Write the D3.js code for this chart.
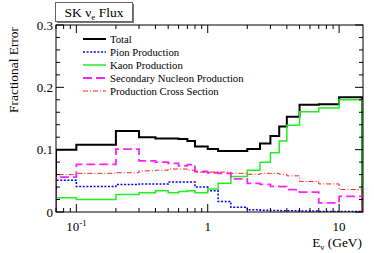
<!DOCTYPE html>
<html>
<head>
<meta charset="utf-8">
<script src="https://cdn.jsdelivr.net/npm/d3@7"></script>
<style>
  body { margin: 0; background: #fff; }
</style>
</head>
<body>
<svg width="374" height="253" font-family="Liberation Serif, DejaVu Serif, serif"></svg>
<script>
// bin edges in GeV
var edges = [0.07, 0.1, 0.2, 0.3, 0.4, 0.5, 0.6, 0.7, 0.8, 0.9, 1.0, 1.2, 1.5, 2.0, 2.5, 3.0, 3.5, 4.0, 5.0, 7.0, 10.0, 15.0];

var total     = [0.100, 0.108, 0.130, 0.120, 0.118, 0.118, 0.117, 0.114, 0.105, 0.105, 0.101, 0.098, 0.098, 0.101, 0.110, 0.122, 0.137, 0.153, 0.172, 0.173, 0.184];
var pion      = [0.051, 0.041, 0.044, 0.045, 0.045, 0.048, 0.048, 0.048, 0.040, 0.040, 0.034, 0.017, 0.0075, 0.0035, 0.003, 0.0025, 0.002, 0.002, 0.0015, 0.001, 0.001];
var kaon      = [0.023, 0.020, 0.028, 0.031, 0.034, 0.031, 0.033, 0.034, 0.031, 0.031, 0.037, 0.046, 0.057, 0.067, 0.080, 0.095, 0.114, 0.139, 0.161, 0.167, 0.180];
var secondary = [0.056, 0.0765, 0.101, 0.082, 0.080, 0.078, 0.074, 0.076, 0.065, 0.065, 0.063, 0.062, 0.053, 0.046, 0.0444, 0.041, 0.0406, 0.036, 0.032, 0.0145, 0.025];
var xsec      = [0.060, 0.062, 0.063, 0.066, 0.067, 0.069, 0.069, 0.067, 0.064, 0.064, 0.064, 0.064, 0.062, 0.0605, 0.062, 0.062, 0.0605, 0.058, 0.049, 0.045, 0.036];

var yTicks = [0, 0.1, 0.2, 0.3];

var series = [
  {name: "Total", values: total, color: "#000000", width: 2, dash: null},
  {name: "Pion Production", values: pion, color: "#0000ff", width: 1.5, dash: "2,1.6"},
  {name: "Kaon Production", values: kaon, color: "#22ee22", width: 1.5, dash: null},
  {name: "Secondary Nucleon Production", values: secondary, color: "#ff22ff", width: 1.8, dash: "9,4"},
  {name: "Production Cross Section", values: xsec, color: "#ff2222", width: 1, dash: "5,2,1,2"}
];

var svg = d3.select("svg");
var frame = {left: 56, right: 363, top: 25, bottom: 212};

var xScale = d3.scaleLog().domain([0.07, 15.2]).range([frame.left, frame.right]);
var yScale = d3.scaleLinear().domain([0, 0.3]).range([frame.bottom, frame.top]);

svg.append("clipPath").attr("id", "clip")
  .append("rect").attr("x", frame.left).attr("y", frame.top)
  .attr("width", frame.right - frame.left).attr("height", frame.bottom - frame.top);

var stepLine = d3.line()
  .x(function(d) { return xScale(d[0]); })
  .y(function(d) { return yScale(d[1]); })
  .curve(d3.curveStepAfter);

var plot = svg.append("g").attr("clip-path", "url(#clip)");

series.forEach(function(s) {
  var pts = [[edges[0], 0]];
  s.values.forEach(function(v, i) { pts.push([edges[i], v]); });
  pts.push([edges[edges.length - 1], s.values[s.values.length - 1]]);
  pts.push([edges[edges.length - 1], 0]);
  plot.append("path")
    .datum(pts)
    .attr("d", stepLine)
    .attr("fill", "none")
    .attr("stroke", s.color)
    .attr("stroke-width", s.width)
    .attr("stroke-dasharray", s.dash);
});

// frame
svg.append("rect")
  .attr("x", frame.left).attr("y", frame.top)
  .attr("width", frame.right - frame.left).attr("height", frame.bottom - frame.top)
  .attr("fill", "none").attr("stroke", "#000").attr("stroke-width", 1);

// y ticks (inward, both sides)
var yMinor = d3.range(0, 0.3001, 0.02);
var tickG = svg.append("g").attr("stroke", "#000").attr("stroke-width", 1);
yMinor.forEach(function(v) {
  var major = Math.abs(v * 10 - Math.round(v * 10)) < 1e-6;
  var len = major ? 8 : 4;
  var y = yScale(v);
  tickG.append("line").attr("x1", frame.left).attr("x2", frame.left + len).attr("y1", y).attr("y2", y);
  tickG.append("line").attr("x1", frame.right).attr("x2", frame.right - len).attr("y1", y).attr("y2", y);
});

// x ticks (log)
var xTickVals = [];
[0.01, 0.1, 1, 10].forEach(function(dec) {
  for (var k = 1; k < 10; k++) {
    var v = dec * k;
    if (v >= 0.07 && v <= 15.2) xTickVals.push({v: v, major: k === 1});
  }
});
xTickVals.forEach(function(t) {
  var len = t.major ? 8 : 4;
  var x = xScale(t.v);
  tickG.append("line").attr("x1", x).attr("x2", x).attr("y1", frame.bottom).attr("y2", frame.bottom - len);
  tickG.append("line").attr("x1", x).attr("x2", x).attr("y1", frame.top).attr("y2", frame.top + len);
});

// y labels
svg.append("g").selectAll("text").data(yTicks).enter().append("text")
  .attr("x", frame.left - 3)
  .attr("y", function(d) { return yScale(d) + 4.5; })
  .attr("text-anchor", "end")
  .attr("font-size", 13)
  .text(function(d) { return d === 0 ? "0" : d3.format(".1f")(d); });

// x labels
var xl = svg.append("text").attr("x", xScale(0.1) - 10).attr("y", 231).attr("font-size", 13);
xl.append("tspan").text("10");
xl.append("tspan").attr("dy", -5).attr("font-size", 9).text("-1");
svg.append("text").attr("x", xScale(1)).attr("y", 231).attr("text-anchor", "middle").attr("font-size", 13).text("1");
svg.append("text").attr("x", xScale(10)).attr("y", 231).attr("text-anchor", "middle").attr("font-size", 13).text("10");

// axis titles
var xt = svg.append("text").attr("x", 362).attr("y", 247).attr("text-anchor", "end").attr("font-size", 13.4);
xt.append("tspan").text("E");
xt.append("tspan").attr("dy", 3).attr("font-size", 9).text("ν");
xt.append("tspan").attr("dy", -3).text(" (GeV)");

svg.append("text")
  .attr("transform", "translate(18,27) rotate(-90)")
  .attr("text-anchor", "end")
  .attr("font-size", 13.4)
  .text("Fractional Error");

// title box
svg.append("rect").attr("x", 57).attr("y", 4).attr("width", 77).attr("height", 19).attr("fill", "#777");
svg.append("rect").attr("x", 55.5).attr("y", 2.5).attr("width", 77).attr("height", 19)
  .attr("fill", "#fff").attr("stroke", "#666").attr("stroke-width", 1);
var tt = svg.append("text").attr("x", 94).attr("y", 17).attr("text-anchor", "middle").attr("font-size", 13.5);
tt.append("tspan").text("SK ν");
tt.append("tspan").attr("dy", 3).attr("font-size", 9).text("e");
tt.append("tspan").attr("dy", -3).text(" Flux");

// legend
var leg = svg.append("g");
series.forEach(function(s, i) {
  var y = 39 + i * 13;
  leg.append("line").attr("x1", 83).attr("x2", 106).attr("y1", y).attr("y2", y)
    .attr("stroke", s.color).attr("stroke-width", s.width).attr("stroke-dasharray", s.dash);
  leg.append("text").attr("x", 110).attr("y", y + 3.5).attr("font-size", 10.7).text(s.name);
});
</script>
</body>
</html>
